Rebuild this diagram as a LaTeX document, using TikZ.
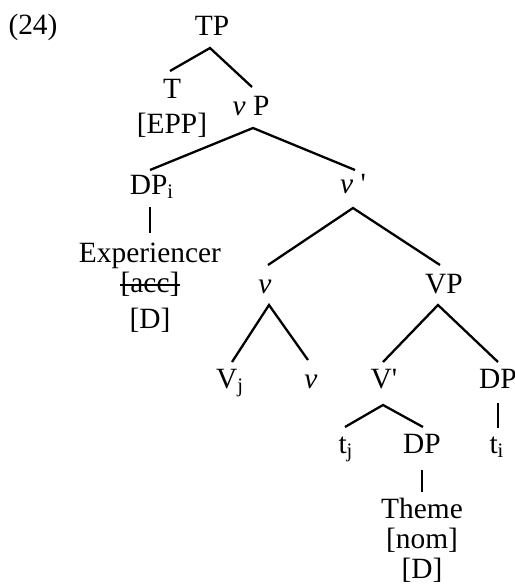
\documentclass[tikz,border=0pt]{standalone}
\usepackage{fontspec}
\setmainfont{Liberation Serif}
\usetikzlibrary{calc}
\begin{document}
\begin{tikzpicture}[x=0.5pt,y=-0.5pt,
  lab/.style={anchor=base,inner sep=0pt,font=\fontsize{14.7}{17}\selectfont},
  br/.style={line width=1.15pt,line join=miter}]
\useasboundingbox (0,0) rectangle (515,585);
\node[lab] (ex) at (33,34) {(24)};
\node[lab] (TP) at (212,35) {TP};
\node[lab] (T) at (172,98) {T};
\node[lab] (epp) at (172,133) {[EPP]};
\node[lab] (vP) at (251,115) {\textit{ν} P};
\node[lab] (DPi) at (152,194) {DP\textsubscript{i}};
\node[lab] (exp) at (150,262) {Experiencer};
\node[lab] (acc) at (150,292) {[acc]};
\node[lab] (D1) at (150,328) {[D]};
\node[lab] (vbar) at (353,193) {\textit{ν} \textquotesingle};
\node[lab] (v) at (265,293) {\textit{ν}};
\node[lab] (VP) at (444,293) {VP};
\node[lab] (Vj) at (230,388) {V\textsubscript{j}};
\node[lab] (v2) at (311,388) {\textit{ν}};
\node[lab] (Vbar) at (384,388) {V\textquotesingle};
\node[lab] (DPr) at (498,388) {DP};
\node[lab] (tj) at (346,453) {t\textsubscript{j}};
\node[lab] (DPm) at (422,453) {DP};
\node[lab] (ti) at (497,453) {t\textsubscript{i}};
\node[lab] (theme) at (422,518) {Theme};
\node[lab] (nom) at (422,548) {[nom]};
\node[lab] (D2) at (422,578) {[D]};
% strike-through
\draw[line width=0.7pt] ($(acc.base west)+(0,-7)$) -- ($(acc.base east)+(0,-7)$);
% branches
\draw[br] ($(T.base)+(-2,-27)$) -- ($(TP.base)+(-2,13)$) -- ($(vP.base)+(1,-28)$);
\draw[br] ($(DPi.base)+(-2,-24)$) -- ($(vP.base)+(2,13)$) -- ($(vbar.base)+(2,-23)$);
\draw[br] ($(DPi.base)+(-2,13)$) -- ($(exp.base)+(0,-29)$);
\draw[br] ($(v.base)+(3,-28)$) -- ($(vbar.base)+(0,15)$) -- ($(VP.base)+(-4,-28)$);
\draw[br] ($(Vj.base)+(2,-26)$) -- ($(v.base)+(4,12)$) -- ($(v2.base)+(-3,-28)$);
\draw[br] ($(Vbar.base)+(-1,-26)$) -- ($(VP.base)+(-6,12)$) -- ($(DPr.base)+(0,-26)$);
\draw[br] ($(tj.base)+(-1,-26)$) -- ($(Vbar.base)+(-1,17)$) -- ($(DPm.base)+(1,-26)$);
\draw[br] ($(DPr.base)+(0,15)$) -- ($(ti.base)+(1,-25)$);
\draw[br] ($(DPm.base)+(0,17)$) -- ($(theme.base)+(0,-26)$);
\end{tikzpicture}
\end{document}
